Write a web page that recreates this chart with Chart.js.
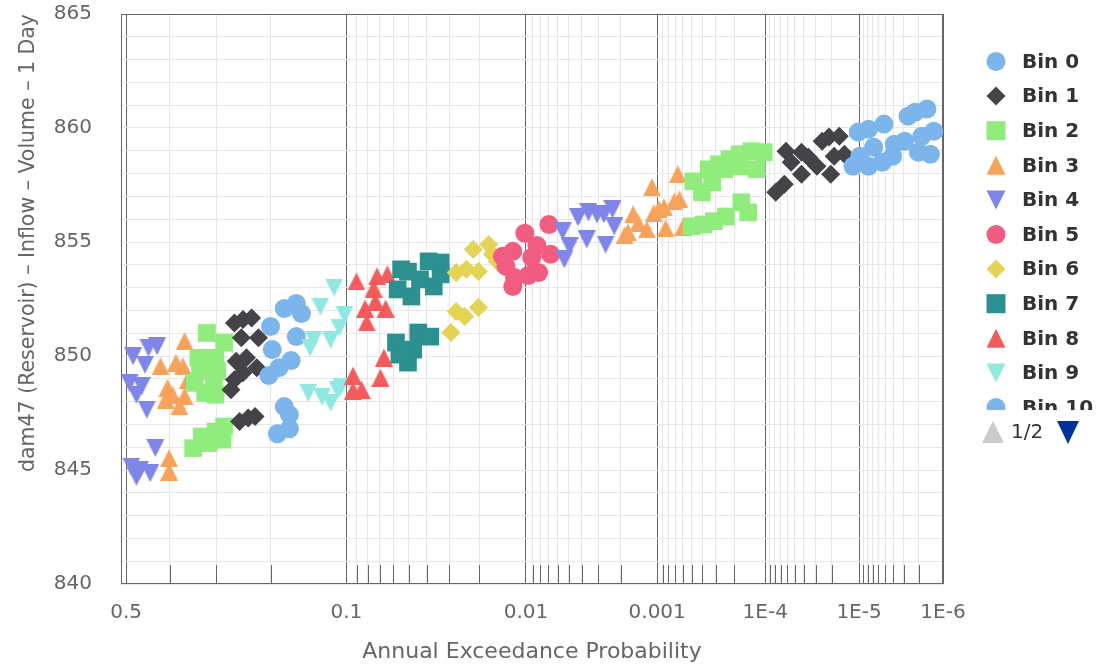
<!DOCTYPE html>
<html lang="en">
<head>
<meta charset="UTF-8">
<title>Annual Exceedance Probability</title>
<script src="https://cdn.jsdelivr.net/npm/chart.js"></script>
<style>
  html, body { margin: 0; padding: 0; background: #fff; }
  #wrap { position: relative; width: 1098px; height: 666px; }
</style>
</head>
<body>
<div id="wrap"><canvas id="aepChart"></canvas></div>
<script>
// x values are the standard normal variate of the annual exceedance probability
// (0 = 0.5, 1.28 = 0.1, 2.33 = 0.01 ...), y values are the 1 day inflow volume
const zBin0 = [4.26, 4.32, 4.41, 4.55, 4.59, 4.66, 4.27, 4.35, 4.32, 4.40, 4.47, 4.53, 4.63, 4.70, 4.23, 4.46, 4.61, 4.68];
const yBin0 = [859.82, 859.95, 860.17, 860.52, 860.69, 860.83, 858.76, 859.16, 858.32, 858.50, 859.29, 859.42, 859.64, 859.86, 858.32, 858.76, 858.94, 858.85];

const zBin1 = [3.84, 3.93, 3.87, 3.97, 4.02, 3.93, 4.10, 3.83, 3.78, 4.05, 4.09, 4.15, 4.18, 4.12];
const yBin1 = [858.98, 858.94, 858.50, 858.72, 858.32, 857.97, 857.97, 857.53, 857.18, 859.42, 859.60, 859.64, 858.85, 858.76];

const zBin2 = [3.30, 3.39, 3.45, 3.51, 3.57, 3.64, 3.71, 3.67, 3.57, 3.48, 3.35, 3.41, 3.29, 3.36, 3.42, 3.49, 3.58, 3.62];
const yBin2 = [857.66, 858.19, 858.41, 858.63, 858.85, 858.98, 858.94, 858.19, 858.32, 858.19, 857.18, 857.62, 855.69, 855.77, 855.91, 856.12, 856.74, 856.30];

const zBin3 = [2.95, 2.98, 2.92, 2.90, 3.03, 3.07, 3.06, 3.10, 3.13, 3.14, 3.21, 3.22, 3.24, 3.19];
const yBin3 = [856.21, 855.82, 855.42, 855.29, 855.55, 856.26, 857.40, 856.43, 856.52, 855.60, 857.97, 856.87, 855.64, 856.78];

const zBin4 = [2.54, 2.58, 2.55, 2.63, 2.69, 2.74, 2.78, 2.83, 2.68, 2.79, 2.84];
const yBin4 = [855.47, 854.81, 854.24, 856.08, 856.30, 856.21, 856.21, 856.43, 855.11, 854.89, 855.69];

const zBin5 = [2.46, 2.32, 2.39, 2.47, 2.25, 2.19, 2.21, 2.26, 2.34, 2.40, 2.25, 2.36];
const yBin5 = [855.77, 855.38, 854.85, 854.46, 854.59, 854.37, 853.93, 853.44, 853.53, 853.66, 853.05, 854.32];

const zBin6 = [2.02, 2.11, 2.13, 1.98, 1.92, 2.05, 2.16, 1.92, 1.97, 2.05, 1.89];
const yBin6 = [854.67, 854.89, 854.46, 853.80, 853.66, 853.71, 854.15, 851.95, 851.73, 852.13, 851.03];

const zBin7 = [1.60, 1.76, 1.83, 1.58, 1.66, 1.71, 1.79, 1.83, 1.64, 1.57, 1.64, 1.70, 1.77, 1.67, 1.59];
const yBin7 = [853.80, 854.15, 854.10, 852.92, 852.61, 853.36, 853.05, 853.58, 853.70, 850.59, 849.71, 851.03, 850.85, 850.28, 850.06];

const zBin8 = [1.34, 1.46, 1.52, 1.44, 1.39, 1.51, 1.45, 1.40, 1.50, 1.32, 1.48, 1.32, 1.37];
const yBin8 = [853.27, 853.49, 853.58, 852.96, 852.08, 852.08, 852.39, 851.47, 849.93, 849.14, 849.05, 848.48, 848.52];

const zBin9 = [1.21, 1.13, 1.27, 1.24, 1.09, 1.07, 1.19, 1.06, 1.14, 1.23, 1.19, 1.25];
const yBin9 = [853.00, 852.17, 851.82, 851.25, 850.72, 850.37, 850.72, 848.39, 848.22, 848.52, 847.95, 848.66];

const zBin10 = [0.92, 0.99, 1.02, 0.84, 0.99, 0.85, 0.96, 0.89, 0.83, 0.92, 0.95, 0.88, 0.95];
const yBin10 = [852.08, 852.30, 851.86, 851.29, 850.85, 850.28, 849.80, 849.49, 849.14, 847.78, 847.43, 846.59, 846.81];

const zBin11 = [0.63, 0.68, 0.73, 0.77, 0.67, 0.64, 0.70, 0.76, 0.68, 0.63, 0.61, 0.66, 0.71, 0.75];
const yBin11 = [851.45, 851.60, 851.67, 850.80, 850.80, 849.77, 849.92, 849.48, 849.26, 848.96, 848.52, 847.13, 847.28, 847.35];

const zBin12 = [0.47, 0.57, 0.42, 0.52, 0.43, 0.53, 0.40, 0.51, 0.46, 0.52, 0.39, 0.44, 0.52, 0.57, 0.56, 0.48];
const yBin12 = [851.01, 850.58, 849.92, 849.92, 849.33, 849.33, 848.82, 848.82, 848.38, 848.30, 845.96, 846.47, 846.69, 846.91, 846.33, 846.18];

const zBin13 = [0.34, 0.20, 0.29, 0.33, 0.36, 0.24, 0.27, 0.34, 0.23, 0.31, 0.25, 0.25];
const yBin13 = [850.65, 849.55, 849.70, 849.55, 848.96, 848.60, 848.30, 848.23, 848.08, 847.79, 845.52, 844.93];

const zBin14 = [0.13, 0.18, 0.04, 0.11, 0.02, 0.09, 0.06, 0.12, 0.17, 0.03, 0.08, 0.14, 0.06];
const yBin14 = [850.36, 850.43, 849.99, 849.62, 848.82, 848.67, 848.30, 847.65, 845.96, 845.15, 845.00, 844.86, 844.70];

const binZ = [zBin0, zBin1, zBin2, zBin3, zBin4, zBin5, zBin6, zBin7, zBin8, zBin9, zBin10, zBin11, zBin12, zBin13, zBin14];
const binY = [yBin0, yBin1, yBin2, yBin3, yBin4, yBin5, yBin6, yBin7, yBin8, yBin9, yBin10, yBin11, yBin12, yBin13, yBin14];
const binNames = binZ.map((_, i) => 'Bin ' + i);

const tickProbs = [0.5, 0.1, 0.01, 0.001, 1e-4, 1e-5, 1e-6];
const tickLabels = ['0.5', '0.1', '0.01', '0.001', '1E-4', '1E-5', '1E-6'];

// highcharts default colours / symbols
const palette = ['#7cb5ec', '#434348', '#90ed7d', '#f7a35c', '#8085e9', '#f15c80', '#e4d354', '#2b908f', '#f45b5b', '#91e8e1'];
const symbols = ['circle', 'diamond', 'square', 'triangle', 'triangle-down'];

// inverse normal cdf (Acklam)
function normInv(p) {
    const a = [-3.969683028665376e+01, 2.209460984245205e+02, -2.759285104469687e+02, 1.383577518672690e+02, -3.066479806614716e+01, 2.506628277459239e+00];
    const b = [-5.447609879822406e+01, 1.615858368580409e+02, -1.556989798598866e+02, 6.680131188771972e+01, -1.328068155288572e+01];
    const c = [-7.784894002430293e-03, -3.223964580411365e-01, -2.400758277161838e+00, -2.549732539343734e+00, 4.374664141464968e+00, 2.938163982698783e+00];
    const d = [7.784695709041462e-03, 3.224671290700398e-01, 2.445134137142996e+00, 3.754408661907416e+00];
    const pl = 0.02425;
    if (p < pl) {
        const q = Math.sqrt(-2 * Math.log(p));
        return (((((c[0]*q+c[1])*q+c[2])*q+c[3])*q+c[4])*q+c[5]) / ((((d[0]*q+d[1])*q+d[2])*q+d[3])*q+1);
    }
    if (p <= 1 - pl) {
        const q = p - 0.5, r = q * q;
        return (((((a[0]*r+a[1])*r+a[2])*r+a[3])*r+a[4])*r+a[5])*q / (((((b[0]*r+b[1])*r+b[2])*r+b[3])*r+b[4])*r+1);
    }
    const q = Math.sqrt(-2 * Math.log(1 - p));
    return -(((((c[0]*q+c[1])*q+c[2])*q+c[3])*q+c[4])*q+c[5]) / ((((d[0]*q+d[1])*q+d[2])*q+d[3])*q+1);
}
const aepToZ = p => -normInv(p);

// tick table: labelled decades + unlabelled 2..9 steps inside each decade
const xTicks = tickProbs.map((p, i) => ({ value: aepToZ(p), major: true, text: tickLabels[i] }));
[0.4, 0.3, 0.2].forEach(p => xTicks.push({ value: aepToZ(p), major: false, text: '' }));
for (let k = 1; k < tickProbs.length - 1; k++) {
    for (let m = 9; m >= 2; m--) {
        xTicks.push({ value: aepToZ(m * tickProbs[k] / 10), major: false, text: '' });
    }
}
xTicks.sort((u, v) => u.value - v.value);

// triangle markers drawn like highcharts (width = height)
function triangleImage(color, down, size) {
    const cv = document.createElement('canvas');
    cv.width = size; cv.height = size;
    const g = cv.getContext('2d');
    g.fillStyle = color;
    g.beginPath();
    if (down) {
        g.moveTo(0, 0); g.lineTo(size, 0); g.lineTo(size / 2, size);
    } else {
        g.moveTo(size / 2, 0); g.lineTo(size, size); g.lineTo(0, size);
    }
    g.closePath();
    g.fill();
    return cv;
}

function markerFor(i) {
    const color = palette[i % 10];
    const sym = symbols[i % 5];
    if (sym === 'circle') return { pointStyle: 'circle', radius: 9.5 };
    if (sym === 'diamond') return { pointStyle: 'rectRot', radius: 9.5 };
    if (sym === 'square') return { pointStyle: 'rect', radius: 12.5 };
    return { pointStyle: triangleImage(color, sym === 'triangle-down', 18), radius: 9 };
}

const datasets = binNames.map((name, i) => {
    const mk = markerFor(i);
    return {
        label: name,
        data: binZ[i].map((z, j) => ({ x: z, y: binY[i][j] })),
        pointStyle: mk.pointStyle,
        pointRadius: mk.radius,
        pointHoverRadius: mk.radius,
        backgroundColor: palette[i % 10],
        pointBackgroundColor: palette[i % 10],
        pointBorderWidth: 0,
        showLine: false
    };
});

const frameColor = '#666666';

// plot border + short tick marks on the bottom axis
const plotFrame = {
    id: 'plotFrame',
    beforeDatasetsDraw(chart) {
        const { ctx, chartArea: a, scales } = chart;
        ctx.save();
        ctx.strokeStyle = frameColor;
        ctx.lineWidth = 1;
        ctx.beginPath();
        xTicks.forEach(t => {
            if (t.major) return;
            const x = Math.round(scales.x.getPixelForValue(t.value)) + 0.5;
            ctx.moveTo(x, a.bottom);
            ctx.lineTo(x, a.bottom - 19);
        });
        ctx.stroke();
        ctx.strokeRect(Math.round(a.left) + 0.5, Math.round(a.top) + 0.5, Math.round(a.right - a.left) - 1, Math.round(a.bottom - a.top) - 1);
        ctx.restore();
    }
};

function drawLegendSymbol(ctx, i, x, y) {
    const color = palette[i % 10];
    const sym = symbols[i % 5];
    const r = 9.5;
    ctx.fillStyle = color;
    ctx.beginPath();
    if (sym === 'circle') {
        ctx.arc(x, y, r, 0, Math.PI * 2);
    } else if (sym === 'diamond') {
        ctx.moveTo(x, y - r); ctx.lineTo(x + r, y); ctx.lineTo(x, y + r); ctx.lineTo(x - r, y);
    } else if (sym === 'square') {
        ctx.rect(x - r, y - r, 2 * r, 2 * r);
    } else if (sym === 'triangle') {
        ctx.moveTo(x, y - r); ctx.lineTo(x + r, y + r); ctx.lineTo(x - r, y + r);
    } else {
        ctx.moveTo(x - r, y - r); ctx.lineTo(x + r, y - r); ctx.lineTo(x, y + r);
    }
    ctx.closePath();
    ctx.fill();
}

// paged legend on the right (page 1 of 2)
const pagedLegend = {
    id: 'pagedLegend',
    afterDraw(chart) {
        const ctx = chart.ctx;
        ctx.save();
        ctx.beginPath();
        ctx.rect(960, 40, 138, 370);
        ctx.clip();
        ctx.font = 'bold 20px "DejaVu Sans"';
        ctx.textBaseline = 'middle';
        binNames.forEach((name, i) => {
            const y = 61.5 + i * 34.6;
            if (y > 440) return;
            drawLegendSymbol(ctx, i, 996, y);
            ctx.fillStyle = '#333333';
            ctx.fillText(name, 1022, y + 1);
        });
        ctx.restore();

        // pager
        ctx.save();
        const py = 432;
        ctx.fillStyle = '#cccccc';
        ctx.beginPath();
        ctx.moveTo(993, py - 11); ctx.lineTo(1004, py + 11); ctx.lineTo(982, py + 11);
        ctx.closePath(); ctx.fill();
        ctx.fillStyle = '#333333';
        ctx.font = '20px "DejaVu Sans"';
        ctx.textBaseline = 'middle';
        ctx.fillText('1/2', 1011, py + 1);
        ctx.fillStyle = '#003399';
        ctx.beginPath();
        ctx.moveTo(1057, py - 11); ctx.lineTo(1079, py - 11); ctx.lineTo(1068, py + 12);
        ctx.closePath(); ctx.fill();
        ctx.restore();
    }
};

const ctx = document.getElementById('aepChart').getContext('2d');
new Chart(ctx, {
    type: 'scatter',
    data: { datasets: datasets },
    options: {
        responsive: true,
        maintainAspectRatio: false,
        animation: false,
        layout: { padding: { top: 14, right: 155, left: 0, bottom: 0 } },
        plugins: {
            legend: { display: false },
            tooltip: { enabled: false }
        },
        scales: {
            x: {
                type: 'linear',
                min: -0.03,
                max: aepToZ(1e-6),
                afterBuildTicks: scale => { scale.ticks = xTicks.map(t => ({ value: t.value })); },
                afterFit: scale => { scale.height = 82; scale.paddingLeft = 0; scale.paddingRight = 0; },
                ticks: {
                    autoSkip: false,
                    maxRotation: 0,
                    padding: 17,
                    color: '#666666',
                    font: { family: 'DejaVu Sans', size: 20 },
                    callback: (v, idx) => xTicks[idx] ? xTicks[idx].text : ''
                },
                grid: {
                    drawTicks: false,
                    color: c => (c.index !== undefined && xTicks[c.index] && xTicks[c.index].major) ? frameColor : '#e6e6e6',
                    lineWidth: 1
                },
                border: { display: false },
                title: {
                    display: true,
                    text: 'Annual Exceedance Probability',
                    color: '#666666',
                    font: { family: 'DejaVu Sans', size: 22 },
                    padding: { top: 0, bottom: 1 }
                }
            },
            y: {
                min: 840,
                max: 865,
                afterFit: scale => { scale.width = 121; scale.paddingTop = 0; scale.paddingBottom = 0; },
                ticks: {
                    stepSize: 1,
                    autoSkip: false,
                    padding: 29,
                    color: '#666666',
                    font: { family: 'DejaVu Sans', size: 20 },
                    callback: v => (v % 5 === 0 ? v : '')
                },
                grid: { drawTicks: false, color: '#e6e6e6', lineWidth: 1 },
                border: { display: false },
                title: {
                    display: true,
                    text: 'dam47 (Reservoir) \u2013 Inflow \u2013 Volume \u2013 1 Day',
                    align: 'end',
                    color: '#666666',
                    font: { family: 'DejaVu Sans', size: 20.5 },
                    padding: { top: 16, bottom: 0 }
                }
            }
        }
    },
    plugins: [plotFrame, pagedLegend]
});
</script>
</body>
</html>
